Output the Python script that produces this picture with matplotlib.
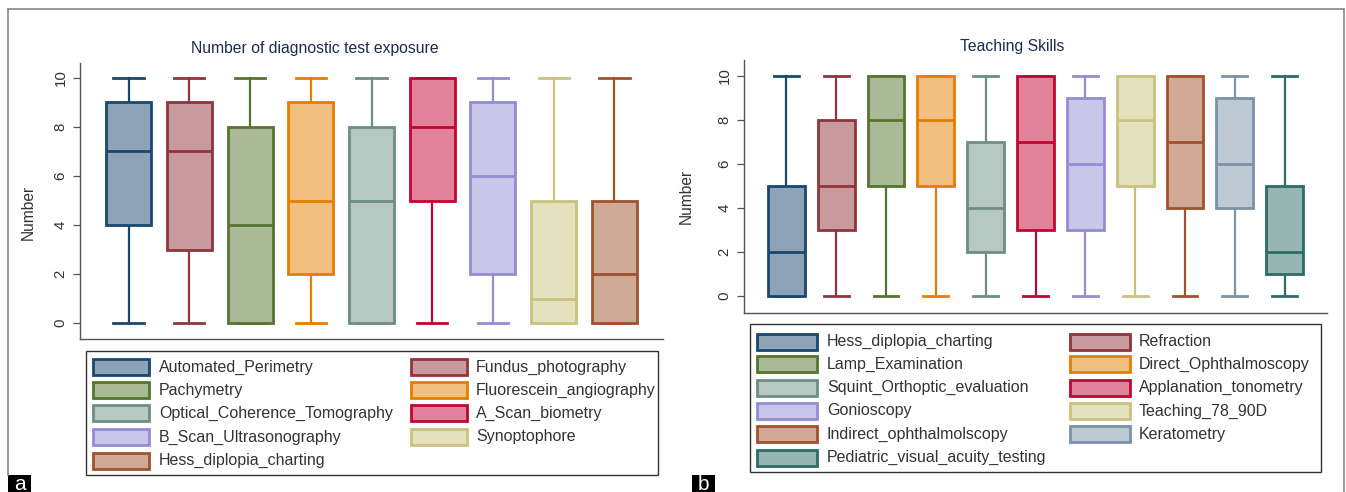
import matplotlib
matplotlib.use("Agg")
import matplotlib.pyplot as plt
from matplotlib.patches import Rectangle
from matplotlib.colors import to_rgb

plt.rcParams['font.family'] = ['Liberation Sans', 'DejaVu Sans']

W, H = 1346, 492

# ---------------- data ----------------
title_a = "Number of diagnostic test exposure"
labels_a = ["Automated_Perimetry", "Fundus_photography", "Pachymetry",
            "Fluorescein_angiography", "Optical_Coherence_Tomography",
            "A_Scan_biometry", "B_Scan_Ultrasonography", "Synoptophore",
            "Hess_diplopia_charting"]
min_a = [0, 0, 0, 0, 0, 0, 0, 0, 0]
q1_a = [4, 3, 0, 2, 0, 5, 2, 0, 0]
med_a = [7, 7, 4, 5, 5, 8, 6, 1, 2]
q3_a = [9, 9, 8, 9, 8, 10, 9, 5, 5]
max_a = [10, 10, 10, 10, 10, 10, 10, 10, 10]

title_b = "Teaching Skills"
labels_b = ["Hess_diplopia_charting", "Refraction", "Lamp_Examination",
            "Direct_Ophthalmoscopy", "Squint_Orthoptic_evaluation",
            "Applanation_tonometry", "Gonioscopy", "Teaching_78_90D",
            "Indirect_ophthalmolscopy", "Keratometry",
            "Pediatric_visual_acuity_testing"]
min_b = [0, 0, 0, 0, 0, 0, 0, 0, 0, 0, 0]
q1_b = [0, 3, 5, 5, 2, 3, 3, 5, 4, 4, 1]
med_b = [2, 5, 8, 8, 4, 7, 6, 8, 7, 6, 2]
q3_b = [5, 8, 10, 10, 7, 10, 9, 10, 10, 9, 5]
max_b = [10, 10, 10, 10, 10, 10, 10, 10, 10, 10, 10]

yticks = [0, 2, 4, 6, 8, 10]
ylabel = "Number"

# Stata s2color palette
palette = ["#1a476f", "#90353b", "#55752f", "#e37e00", "#6e8e84",
           "#c10534", "#938dd2", "#cac27e", "#a0522d", "#7b92a8", "#2d6d66"]


def light(c, f=0.5):
    r, g, b = to_rgb(c)
    return (r + (1 - r) * f, g + (1 - g) * f, b + (1 - b) * f)


fig = plt.figure(figsize=(W / 100, H / 100), dpi=100)


def fx(x):
    return x / W


def fy(y):
    return 1 - y / H


def panel(rect_px, ylim, labels, mins, q1s, meds, q3s, maxs, title, title_xy,
          ylab_x, ylab_y):
    x0, y0, x1, y1 = rect_px
    ax = fig.add_axes([fx(x0), fy(y1), (x1 - x0) / W, (y1 - y0) / H])
    n = len(labels)
    stats = [dict(whislo=mins[i], q1=q1s[i], med=meds[i], q3=q3s[i],
                  whishi=maxs[i], fliers=[]) for i in range(n)]
    pos = list(range(1, n + 1))
    bp = ax.bxp(stats, positions=pos, widths=0.74, capwidths=0.5,
                patch_artist=True, showfliers=False)
    for i in range(n):
        c = palette[i]
        bp['boxes'][i].set_facecolor(light(c))
        bp['boxes'][i].set_edgecolor(c)
        bp['boxes'][i].set_linewidth(2.0)
        bp['boxes'][i].set_zorder(3)
        bp['medians'][i].set_color(c)
        bp['medians'][i].set_linewidth(2.0)
        bp['medians'][i].set_zorder(4)
        for k in (2 * i, 2 * i + 1):
            bp['whiskers'][k].set_color(c)
            bp['whiskers'][k].set_linewidth(1.6)
            bp['caps'][k].set_color(c)
            bp['caps'][k].set_linewidth(2.0)
    ax.set_xlim(0.15 if n > 9 else 0.2, n + 0.85 if n > 9 else n + 0.8)
    ax.set_ylim(*ylim)
    ax.set_xticks([])
    ax.set_yticks(yticks)
    ax.set_yticklabels([str(t) for t in yticks], rotation=90, va='center',
                       fontsize=10.8, color='#333333')
    ax.tick_params(axis='y', length=5, width=0.9, color='#555555', pad=4)
    for s in ('top', 'right'):
        ax.spines[s].set_visible(False)
    for s in ('left', 'bottom'):
        ax.spines[s].set_color('#555555')
        ax.spines[s].set_linewidth(1.0)
    ax.set_ylabel(ylabel, fontsize=11.2, color='#333333')
    ax.yaxis.set_label_coords(ylab_x, ylab_y)
    fig.text(fx(title_xy[0]), fy(title_xy[1]), title, ha='center',
             va='center', fontsize=11.3, color='#1c2b50')
    return ax


panel((80, 63, 663, 339), (-0.65, 10.61), labels_a, min_a, q1_a, med_a,
      q3_a, max_a, title_a, (315, 48), -0.0755, 0.46)
panel((744, 60, 1327, 313), (-0.77, 10.73), labels_b, min_b, q1_b, med_b,
      q3_b, max_b, title_b, (1012, 46), -0.0858, 0.46)


def legend(frame, labels, col_sw, col_tx, rows_y, sw_w, sw_h):
    lx0, ly0, lx1, ly1 = frame
    fig.patches.append(Rectangle((fx(lx0), fy(ly1)), (lx1 - lx0) / W,
                                 (ly1 - ly0) / H, transform=fig.transFigure,
                                 facecolor='white', edgecolor='#333333',
                                 linewidth=1.0))
    for i, lab in enumerate(labels):
        col = i % 2
        row = i // 2
        yc = rows_y[row]
        c = palette[i]
        fig.patches.append(Rectangle((fx(col_sw[col]), fy(yc + sw_h / 2)),
                                     sw_w / W, sw_h / H,
                                     transform=fig.transFigure,
                                     facecolor=light(c), edgecolor=c,
                                     linewidth=2.0))
        fig.text(fx(col_tx[col]), fy(yc), lab, ha='left', va='center',
                 fontsize=11.5, color='#333333')


legend((86, 351, 658, 475), labels_a, (93, 411), (159, 476),
       [367, 390, 413.3, 437, 460.5], 56, 16)
legend((750, 324, 1321, 472), labels_b, (757, 1070), (827, 1139),
       [341.7, 364.3, 387.7, 411, 434.3, 457.7], 60, 16)

# outer frame
fig.add_artist(plt.Line2D([fx(8), fx(1344)], [fy(9), fy(9)],
                          transform=fig.transFigure, color='#888888', lw=1.2))
fig.add_artist(plt.Line2D([fx(8), fx(8)], [fy(9), fy(475)],
                          transform=fig.transFigure, color='#888888', lw=1.2))
fig.add_artist(plt.Line2D([fx(1344), fx(1344)], [fy(9), fy(492)],
                          transform=fig.transFigure, color='#888888', lw=1.2))

# panel letters
for letter, x0 in (("a", 8), ("b", 692)):
    fig.patches.append(Rectangle((fx(x0), 0), 23 / W, 17 / H,
                                 transform=fig.transFigure,
                                 facecolor='black', edgecolor='none'))
    fig.text(fx(x0 + 11.5), fy(485), letter, ha='center', va='center',
             fontsize=15, color='white')

fig.savefig("out.png", dpi=100)
